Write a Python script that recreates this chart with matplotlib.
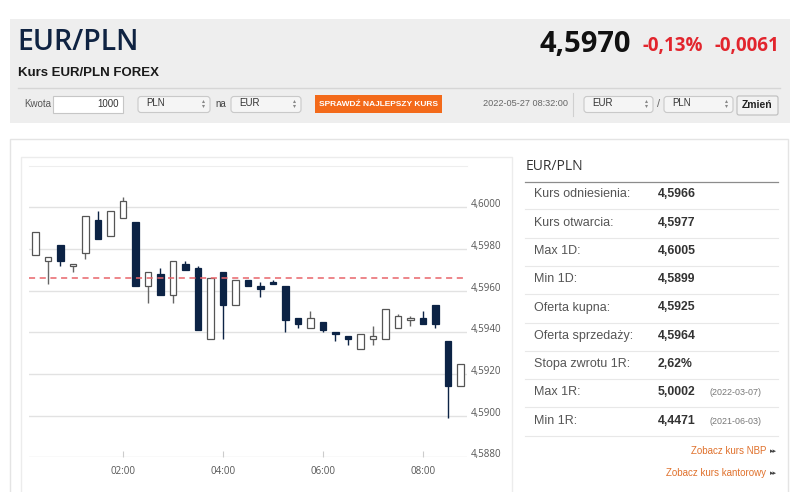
import matplotlib.pyplot as plt
from matplotlib.patches import Rectangle, FancyBboxPatch

# 15-minute candles, EUR/PLN, 2022-05-27
times = ["00:15", "00:30", "00:45", "01:00", "01:15", "01:30", "01:45", "02:00",
         "02:15", "02:30", "02:45", "03:00", "03:15", "03:30", "03:45", "04:00",
         "04:15", "04:30", "04:45", "05:00", "05:15", "05:30", "05:45", "06:00",
         "06:15", "06:30", "06:45", "07:00", "07:15", "07:30", "07:45", "08:00",
         "08:15", "08:30", "08:45"]
opens = [4.5977, 4.5974, 4.5982, 4.5972, 4.5978, 4.5994, 4.5986, 4.5995,
         4.5993, 4.5962, 4.5968, 4.5958, 4.5973, 4.5971, 4.5937, 4.5969,
         4.5953, 4.5965, 4.5962, 4.5964, 4.5962, 4.5947, 4.5942, 4.5945,
         4.5940, 4.5938, 4.5932, 4.5937, 4.5937, 4.5942, 4.5946, 4.5947,
         4.5953, 4.5936, 4.5914]
highs = [4.5988, 4.5976, 4.5982, 4.5973, 4.5996, 4.5998, 4.5998, 4.6005,
         4.5993, 4.5969, 4.5971, 4.5974, 4.5974, 4.5972, 4.5966, 4.5969,
         4.5965, 4.5965, 4.5964, 4.5965, 4.5962, 4.5947, 4.5950, 4.5945,
         4.5940, 4.5938, 4.5939, 4.5943, 4.5951, 4.5949, 4.5948, 4.5950,
         4.5953, 4.5936, 4.5925]
lows = [4.5977, 4.5963, 4.5972, 4.5969, 4.5975, 4.5985, 4.5986, 4.5995,
        4.5962, 4.5954, 4.5958, 4.5954, 4.5970, 4.5941, 4.5937, 4.5937,
        4.5953, 4.5962, 4.5957, 4.5963, 4.5940, 4.5942, 4.5942, 4.5940,
        4.5936, 4.5934, 4.5932, 4.5934, 4.5937, 4.5942, 4.5943, 4.5944,
        4.5942, 4.5899, 4.5914]
closes = [4.5988, 4.5976, 4.5974, 4.5973, 4.5996, 4.5985, 4.5998, 4.6003,
          4.5962, 4.5969, 4.5958, 4.5974, 4.5970, 4.5941, 4.5966, 4.5953,
          4.5965, 4.5962, 4.5961, 4.5963, 4.5946, 4.5944, 4.5947, 4.5941,
          4.5939, 4.5937, 4.5939, 4.5938, 4.5951, 4.5948, 4.5947, 4.5944,
          4.5944, 4.5914, 4.5925]
ref_rate = 4.5966
y_ticks = [4.5880, 4.5900, 4.5920, 4.5940, 4.5960, 4.5980, 4.6000]
x_ticks = ["02:00", "04:00", "06:00", "08:00"]

table_labels = ["Kurs odniesienia:", "Kurs otwarcia:", "Max 1D:", "Min 1D:",
                "Oferta kupna:", "Oferta sprzedaży:", "Stopa zwrotu 1R:",
                "Max 1R:", "Min 1R:"]
table_values = ["4,5966", "4,5977", "4,6005", "4,5899", "4,5925", "4,5964",
                "2,62%", "5,0002", "4,4471"]
table_dates = ["", "", "", "", "", "", "", "(2022-03-07)", "(2021-06-03)"]


def hours(t):
    return int(t[:2]) + int(t[3:]) / 60


NAVY = "#0c2345"
SANS = ["Liberation Sans", "DejaVu Sans"]
OPEN = ["Open Sans", "DejaVu Sans"]

fig = plt.figure(figsize=(7.97, 4.92), dpi=100)
fig.patch.set_facecolor("white")

# page layer in pixel coordinates
bg = fig.add_axes([0, 0, 1, 1])
bg.set_xlim(0, 797)
bg.set_ylim(492, 0)
bg.axis("off")


def box(x0, y0, x1, y1, fc, ec="none", lw=1.0, r=0):
    if r:
        p = FancyBboxPatch((x0, y0), x1 - x0, y1 - y0,
                           boxstyle=f"round,pad=0,rounding_size={r}",
                           fc=fc, ec=ec, lw=lw)
    else:
        p = Rectangle((x0, y0), x1 - x0, y1 - y0, fc=fc, ec=ec, lw=lw)
    bg.add_patch(p)


def select(x0, x1, label):
    box(x0, 96.5, x1, 112.5, "#f5f5f5", "#c9c9c9", 0.8, r=3)
    bg.text(x0 + 8, 103, label, fontsize=7, family=SANS, color="#333", va="center")
    bg.plot([x1 - 7], [101], marker="^", ms=2.2, color="#888", mew=0)
    bg.plot([x1 - 7], [106], marker="v", ms=2.2, color="#888", mew=0)


# header panel
box(10, 19, 790, 123, "#eeeeee")
bg.text(17, 43, "EUR/PLN", fontsize=20.5, family=OPEN, weight="semibold",
        color="#0f2342", va="center")
bg.text(18, 73, "Kurs EUR/PLN FOREX", fontsize=9.5, family=SANS, weight="bold",
        color="#1a1a1a", va="center")
bg.text(631, 44, "4,5970", fontsize=21, family=OPEN, weight="bold",
        color="#111", va="center", ha="right")
bg.text(643, 46, "-0,13%", fontsize=13.5, family=OPEN, weight="bold",
        color="#e2252d", va="center")
bg.text(715, 46, "-0,0061", fontsize=13.5, family=OPEN, weight="bold",
        color="#e2252d", va="center")
bg.plot([18, 780], [88, 88], color="#d6d6d6", lw=1)

bg.text(24, 104, "Kwota", fontsize=7, family=SANS, color="#555", va="center")
box(53, 96, 123, 113, "white", "#c6c6c6", 0.8)
bg.text(119, 104, "1000", fontsize=7, family=SANS, color="#333", va="center", ha="right")
select(138, 210, "PLN")
bg.text(215, 104, "na", fontsize=7, family=SANS, color="#444", va="center")
select(231, 301, "EUR")
box(315, 95, 442, 113, "#f36a1a")
bg.text(378.5, 104, "SPRAWDŹ NAJLEPSZY KURS", fontsize=6, family=SANS,
        weight="bold", color="white", va="center", ha="center")
bg.text(483, 104, "2022-05-27 08:32:00", fontsize=6.6, family=SANS,
        color="#666", va="center")
bg.plot([573.5, 573.5], [93, 116], color="#d0d0d0", lw=0.8)
select(584, 653, "EUR")
bg.text(657, 104, "/", fontsize=8, family=SANS, color="#666", va="center")
select(664, 733, "PLN")
box(737, 96, 778, 115, "#f2f2f2", "#bdbdbd", 0.8, r=2)
bg.text(757.5, 105.5, "Zmień", fontsize=7.5, family=SANS, weight="bold",
        color="#222", va="center", ha="center")

# lower card
box(10, 139, 788, 500, "white", "#e4e4e4")
box(21, 157, 512, 500, "white", "#ececec")

# info table
bg.text(526, 167, "EUR/PLN", fontsize=10, family=OPEN, color="#333", va="center")
bg.plot([525, 778], [181.7, 181.7], color="#8c8c8c", lw=0.9)
for i, (lab, val, dt) in enumerate(zip(table_labels, table_values, table_dates)):
    yc = 194.3 + 28.3 * i
    bg.text(534, yc, lab, fontsize=9, family=SANS, color="#555", va="center")
    bg.text(658, yc, val, fontsize=8.8, family=SANS, weight="bold",
            color="#333", va="center")
    if dt:
        bg.text(710, yc + 0.5, dt, fontsize=6.4, family=SANS, color="#777", va="center")
    bg.plot([525, 778], [yc + 15, yc + 15], color="#e8e8e8", lw=0.8)

bg.text(766, 451, "Zobacz kurs NBP", fontsize=7, family=SANS, color="#e0712c",
        va="center", ha="right")
bg.text(766, 473, "Zobacz kurs kantorowy", fontsize=7, family=SANS, color="#e0712c",
        va="center", ha="right")
for yy in (451, 473):
    bg.text(770, yy, "▸▸", fontsize=5, family=["DejaVu Sans"], color="#444", va="center")

# candlestick chart
ax = fig.add_axes([29.25 / 797, (492 - 457.3) / 492, 437.5 / 797, (457.3 - 165.6) / 492])
ax.set_facecolor("none")
ax.set_xlim(0.125, 8.875)
ax.set_ylim(4.5880, 4.6020)

xs = [hours(t) for t in times]
for x, o, h, l, c in zip(xs, opens, highs, lows, closes):
    up = c >= o
    col = "#666666" if up else NAVY
    ax.vlines(x, l, h, color=col, lw=1, zorder=2)
    lo = min(o, c)
    ht = max(abs(c - o), 0.00005)
    ax.bar(x, ht, bottom=lo, width=0.135, color="white" if up else NAVY,
           edgecolor="#555555" if up else NAVY, lw=0.9, zorder=3)

ax.axhline(ref_rate, color="#e8646a", lw=1.1, ls=(0, (4, 3)), zorder=4)

for v in y_ticks:
    ax.axhline(v, color="#e2e2e2", lw=1, zorder=1)

for s in ("left", "right", "bottom"):
    ax.spines[s].set_visible(False)
ax.spines["top"].set_color("#eeeeee")

ax.set_yticks(y_ticks)
ax.set_yticklabels([f"{v:.4f}".replace(".", ",") for v in y_ticks])
ax.yaxis.tick_right()
ax.tick_params(axis="y", length=0, pad=3, labelsize=7, labelcolor="#555")
for lbl in ax.get_yticklabels():
    lbl.set_va("baseline")
    lbl.set_family(OPEN)

ax.set_xticks([hours(t) for t in x_ticks])
ax.set_xticklabels(x_ticks)
ax.tick_params(axis="x", direction="in", length=4, color="#cccccc", pad=6,
               labelsize=7, labelcolor="#555")
for lbl in ax.get_xticklabels():
    lbl.set_family(OPEN)

fig.savefig("out.png", dpi=100)
plt.close()
